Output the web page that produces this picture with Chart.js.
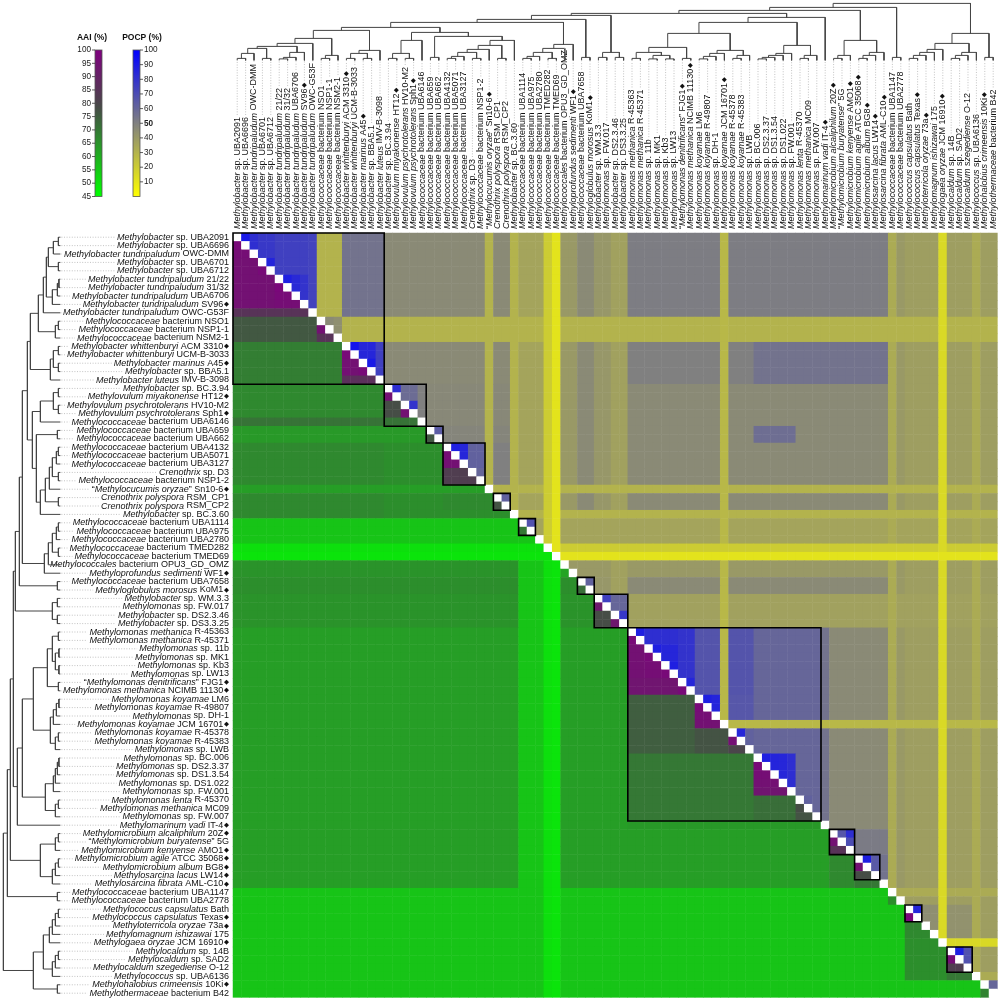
<!DOCTYPE html>
<html>
<head>
<meta charset="utf-8">
<title>AAI / POCP heatmap</title>
<script src="https://cdn.jsdelivr.net/npm/chart.js@4.4.1/dist/chart.umd.min.js"></script>
<style>
  html, body { margin: 0; padding: 0; background: #fff; }
  canvas { display: block; }
</style>
</head>
<body>
<canvas id="heatmap" width="1000" height="1000"></canvas>
<script>
// Taxa in dendrogram order (*...* = italic part, ◆ = type strain)
const taxa = [
  '*Methylobacter* sp. UBA2091',
  '*Methylobacter* sp. UBA6696',
  '*Methylobacter tundripaludum* OWC-DMM',
  '*Methylobacter* sp. UBA6701',
  '*Methylobacter* sp. UBA6712',
  '*Methylobacter tundripaludum* 21/22',
  '*Methylobacter tundripaludum* 31/32',
  '*Methylobacter tundripaludum* UBA6706',
  '*Methylobacter tundripaludum* SV96◆',
  '*Methylobacter tundripaludum* OWC-G53F',
  '*Methylococcaceae* bacterium NSO1',
  '*Methylococcaceae* bacterium NSP1-1',
  '*Methylococcaceae* bacterium NSM2-1',
  '*Methylobacter whittenburyi* ACM 3310◆',
  '*Methylobacter whittenburyi* UCM-B-3033',
  '*Methylobacter marinus* A45◆',
  '*Methylobacter* sp. BBA5.1',
  '*Methylobacter luteus* IMV-B-3098',
  '*Methylobacter* sp. BC.3.94',
  '*Methylovulum miyakonense* HT12◆',
  '*Methylovulum psychrotolerans* HV10-M2',
  '*Methylovulum psychrotolerans* Sph1◆',
  '*Methylococcaceae* bacterium UBA6146',
  '*Methylococcaceae* bacterium UBA659',
  '*Methylococcaceae* bacterium UBA662',
  '*Methylococcaceae* bacterium UBA4132',
  '*Methylococcaceae* bacterium UBA5071',
  '*Methylococcaceae* bacterium UBA3127',
  '*Crenothrix* sp. D3',
  '*Methylococcaceae* bacterium NSP1-2',
  '“*Methylocucumis oryzae*” Sn10-6◆',
  '*Crenothrix polyspora* RSM_CP1',
  '*Crenothrix polyspora* RSM_CP2',
  '*Methylobacter* sp. BC.3.60',
  '*Methylococcaceae* bacterium UBA1114',
  '*Methylococcaceae* bacterium UBA975',
  '*Methylococcaceae* bacterium UBA2780',
  '*Methylococcaceae* bacterium TMED282',
  '*Methylococcaceae* bacterium TMED69',
  '*Methylococcales* bacterium OPU3_GD_OMZ',
  '*Methyloprofundus sedimenti* WF1◆',
  '*Methylococcaceae* bacterium UBA7658',
  '*Methyloglobulus morosus* KoM1◆',
  '*Methylobacter* sp. WM.3.3',
  '*Methylomonas* sp. FW.017',
  '*Methylobacter* sp. DS2.3.46',
  '*Methylobacter* sp. DS3.3.25',
  '*Methylomonas methanica* R-45363',
  '*Methylomonas methanica* R-45371',
  '*Methylomonas* sp. 11b',
  '*Methylomonas* sp. MK1',
  '*Methylomonas* sp. Kb3',
  '*Methylomonas* sp. LW13',
  '“*Methylomonas denitrificans*” FJG1◆',
  '*Methylomonas methanica* NCIMB 11130◆',
  '*Methylomonas koyamae* LM6',
  '*Methylomonas koyamae* R-49807',
  '*Methylomonas* sp. DH-1',
  '*Methylomonas koyamae* JCM 16701◆',
  '*Methylomonas koyamae* R-45378',
  '*Methylomonas koyamae* R-45383',
  '*Methylomonas* sp. LWB',
  '*Methylomonas* sp. BC.006',
  '*Methylomonas* sp. DS2.3.37',
  '*Methylomonas* sp. DS1.3.54',
  '*Methylomonas* sp. DS1.022',
  '*Methylomonas* sp. FW.001',
  '*Methylomonas lenta* R-45370',
  '*Methylomonas methanica* MC09',
  '*Methylomonas* sp. FW.007',
  '*Methylomarinum vadi* IT-4◆',
  '*Methylomicrobium alcaliphilum* 20Z◆',
  '“*Methylomicrobium buryatense*” 5G',
  '*Methylomicrobium kenyense* AMO1◆',
  '*Methylomicrobium agile* ATCC 35068◆',
  '*Methylomicrobium album* BG8◆',
  '*Methylosarcina lacus* LW14◆',
  '*Methylosarcina fibrata* AML-C10◆',
  '*Methylococcaceae* bacterium UBA1147',
  '*Methylococcaceae* bacterium UBA2778',
  '*Methylococcus capsulatus* Bath',
  '*Methylococcus capsulatus* Texas◆',
  '*Methyloterricola oryzae* 73a◆',
  '*Methylomagnum ishizawai* 175',
  '*Methylogaea oryzae* JCM 16910◆',
  '*Methylocaldum* sp. 14B',
  '*Methylocaldum* sp. SAD2',
  '*Methylocaldum szegediense* O-12',
  '*Methylococcus* sp. UBA6136',
  '*Methylohalobius crimeensis* 10Ki◆',
  '*Methylothermaceae* bacterium B42'
];

// Tree nodes: [height, AAI %, POCP %, left, right]; the AAI/POCP of a node
// is the value read for pairs that first meet at that node.
const n01 = [2, 97, 90, 0, 1];
const n012 = [7, 96, 82, n01, 2];
const n34 = [2, 97, 86, 3, 4];
const a1 = [12, 95, 78, n012, n34];
const n56 = [1.5, 98, 88, 5, 6];
const n567 = [3, 97, 84, n56, 7];
const n5678 = [8, 96, 80, n567, 8];
const a2 = [14, 95, 75, a1, n5678];
const a3 = [17, 85, 74, a2, 9];
const n1011 = [2, 95, 48, 10, 11];
const n1012 = [5, 85, 46, n1011, 12];
const a4 = [22, 76, 60, a3, n1012];
const n1314 = [2, 97, 92, 13, 14];
const n1516 = [2, 97, 90, 15, 16];
const n1316 = [7, 95, 85, n1314, n1516];
const n1317 = [10, 86, 75, n1316, 17];
const cladeA = [30, 69, 55, a4, n1317];

const n1819 = [2, 95, 82, 18, 19];
const n2021 = [2, 95, 80, 20, 21];
const n1821 = [7, 78, 58, n1819, n2021];
const cladeB = [20, 71, 50, n1821, 22];

const n2324 = [3, 76, 64, 23, 24];
const n2526 = [2, 96, 88, 25, 26];
const n2527 = [4, 95, 85, n2526, 27];
const n2829 = [2, 82, 60, 28, 29];
const n2529 = [8, 82, 62, n2527, n2829];
const n2530 = [11, 67, 50, n2529, 30];
const n3132 = [2, 77, 62, 31, 32];
const n2532 = [15, 67, 50, n2530, n3132];
const n2533 = [20, 66, 48, n2532, 33];
const cladeC = [24, 66, 48, n2324, n2533];
const cladeBC = [28, 66, 47, cladeB, cladeC];
const cladeABC = [33, 67, 46, cladeA, cladeBC];

const n3435 = [2, 70, 68, 34, 35];
const n3436 = [4, 60, 50, n3435, 36];
const n3738 = [2, 55, 40, 37, 38];
const n3438 = [8, 58, 45, n3436, n3738];
const n3439 = [12, 62, 45, n3438, 39];
const cladeD = [16, 62, 45, n3439, 40];
const cladeE = [3, 72, 62, 41, 42];
const cladeABCD = [38, 65, 46, cladeABC, cladeD];
const cladeABCDE = [41, 66, 46, cladeABCD, cladeE];

const n4344 = [3, 93, 75, 43, 44];
const n4546 = [3, 93, 78, 45, 46];
const cladeF = [8, 78, 60, n4344, n4546];
const upper = [45, 65, 46, cladeABCDE, cladeF];

const n4748 = [2, 97, 88, 47, 48];
const n4950 = [1.5, 97, 88, 49, 50];
const n5152 = [1.5, 97, 88, 51, 52];
const n4952 = [5, 96, 85, n4950, n5152];
const n4752 = [8, 95, 82, n4748, n4952];
const n5354 = [2, 97, 85, 53, 54];
const g1a = [13, 94, 80, n4752, n5354];
const n5556 = [1.5, 97, 88, 55, 56];
const n5557 = [4, 96, 86, n5556, 57];
const n5558 = [7, 95, 84, n5557, 58];
const n5960 = [2, 96, 85, 59, 60];
const n5961 = [5, 80, 62, n5960, 61];
const g1b = [10, 77, 66, n5558, n5961];
const g1 = [27, 75, 67, g1a, g1b];
const n6263 = [1.5, 97, 88, 62, 63];
const n6264 = [3, 96, 86, n6263, 64];
const n6265 = [5, 95, 85, n6264, 65];
const n6266 = [7, 94, 82, n6265, 66];
const n6768 = [2, 78, 62, 67, 68];
const n6769 = [5, 77, 60, n6768, 69];
const g2 = [15, 72, 60, n6266, n6769];
const cladeG = [38, 70, 60, g1, g2];
const cladeGH = [43, 64, 55, cladeG, 70];
const rest3 = [47, 63, 46, upper, cladeGH];

const n7172 = [2, 95, 66, 71, 72];
const n7173 = [5, 85, 70, n7172, 73];
const n7475 = [2, 95, 88, 74, 75];
const n7476 = [5, 78, 65, n7475, 76];
const n7477 = [8, 70, 55, n7476, 77];
const cladeI = [20, 67, 52, n7173, n7477];
const rest2 = [50, 63, 46, rest3, cladeI];
const cladeJ = [3, 66, 55, 78, 79];
const rest = [53, 56, 40, rest2, cladeJ];

const n8081 = [2, 98, 85, 80, 81];
const n8082 = [5, 68, 45, n8081, 82];
const n8083 = [8, 67, 44, n8082, 83];
const n8084 = [11, 66, 42, n8083, 84];
const n8586 = [2, 96, 88, 85, 86];
const n8587 = [5, 82, 68, n8586, 87];
const n8588 = [8, 70, 55, n8587, 88];
const cladeK = [17, 66, 43, n8084, n8588];
const cladeL = [3, 68, 60, 89, 90];
const cladeKL = [27, 56, 38, cladeK, cladeL];
const treeRoot = [57, 56, 38, rest, cladeKL];

// Rectangular regions read separately: [row0, row1, col0, col1, AAI, POCP]
const blocks = [
  [0, 9, 47, 77, null, 51],
  [13, 17, 47, 61, null, 50],
  [13, 17, 62, 77, null, 55],
  [23, 24, 62, 66, null, 57],
  [0, 42, 43, 44, null, 41],
  [0, 42, 45, 46, null, 37],
  [43, 46, 47, 90, null, 37],
  [22, 22, 0, 17, 71, null],
  [23, 24, 0, 22, 64, null],
  [30, 30, 0, 29, 63, null]
];

// Taxa whose values stay low against everything (the light stripes)
const aaiCap = { 34: 56, 35: 56, 36: 56, 37: 51, 38: 50 };
const pocpCap = {
  10: 30, 11: 30, 12: 30, 30: 30, 33: 30, 34: 36, 35: 36, 36: 36,
  37: 20, 38: 11, 39: 40, 40: 40, 58: 28, 78: 33, 84: 15, 88: 33
};

// Single pairs that differ from the rules above: [i, j, AAI, POCP]
const pairOverrides = [
  [10, 11, null, 46],
  [10, 12, null, 44],
  [11, 12, null, 44],
  [34, 35, 70, 68],
  [71, 73, null, 82]
];

// Boxed clusters [first, last]
const boxes = [
  [0, 17], [18, 22], [23, 24], [25, 29], [31, 32], [34, 35], [41, 42],
  [43, 46], [47, 69], [71, 73], [74, 76], [80, 81], [85, 87]
];

const aaiTicks = [100, 95, 90, 85, 80, 75, 70, 65, 60, 55, 50, 45];
const pocpTicks = [100, 90, 80, 70, 60, 50, 40, 30, 20, 10];

// Colour ramps
const AAI_STOPS = [[45, [0, 255, 0]], [79, [72, 72, 72]], [100, [128, 0, 128]]];
const POCP_STOPS = [[0, [255, 255, 0]], [50, [128, 128, 128]], [100, [0, 0, 255]]];

function rampColor(stops, v) {
  if (v <= stops[0][0]) return stops[0][1];
  for (let k = 1; k < stops.length; k++) {
    if (v <= stops[k][0]) {
      const t = (v - stops[k - 1][0]) / (stops[k][0] - stops[k - 1][0]);
      return stops[k - 1][1].map((c, m) => Math.round(c + (stops[k][1][m] - c) * t));
    }
  }
  return stops[stops.length - 1][1];
}
const rgb = c => `rgb(${c[0]},${c[1]},${c[2]})`;

// Build the matrices
const N = taxa.length;
const aai = Array.from({ length: N }, () => new Array(N).fill(null));
const pocp = Array.from({ length: N }, () => new Array(N).fill(null));

function setPair(i, j, a, p) {
  const r = Math.max(i, j), c = Math.min(i, j);
  if (a != null) aai[r][c] = a;
  if (p != null) pocp[c][r] = p;
}

function fillPairs(node) {
  if (typeof node === 'number') return [node];
  const left = fillPairs(node[3]);
  const right = fillPairs(node[4]);
  left.forEach(i => right.forEach(j => setPair(i, j, node[1], node[2])));
  return left.concat(right);
}
fillPairs(treeRoot);

blocks.forEach(([r0, r1, c0, c1, a, p]) => {
  for (let r = r0; r <= r1; r++) {
    for (let c = c0; c <= c1; c++) {
      if (r > c && a != null) aai[r][c] = a;
      if (r < c && p != null) pocp[r][c] = p;
    }
  }
});

for (let r = 0; r < N; r++) {
  for (let c = 0; c < N; c++) {
    if (r > c) {
      [aaiCap[r], aaiCap[c]].forEach(cap => { if (cap != null) aai[r][c] = Math.min(aai[r][c], cap); });
    } else if (r < c) {
      [pocpCap[r], pocpCap[c]].forEach(cap => { if (cap != null) pocp[r][c] = Math.min(pocp[r][c], cap); });
    }
  }
}
pairOverrides.forEach(([i, j, a, p]) => setPair(i, j, a, p));

const cellPoints = [];
const cellColors = [];
for (let r = 0; r < N; r++) {
  for (let c = 0; c < N; c++) {
    cellPoints.push({ x: c + 0.5, y: r + 0.5 });
    if (r === c) cellColors.push('#ffffff');
    else if (r > c) cellColors.push(rgb(rampColor(AAI_STOPS, aai[r][c])));
    else cellColors.push(rgb(rampColor(POCP_STOPS, pocp[r][c])));
  }
}

// Layout in axis units (one unit = one heatmap cell)
const AXIS_MIN = -27.74;
const AXIS_MAX = 91.31;
const DENDRO_LEAF = -20.55;
const DENDRO_UNIT = 1 / 8.4;

function dendroPaths(node, toPoint, out) {
  if (typeof node === 'number') return { pos: node + 0.5, h: 0 };
  const a = dendroPaths(node[3], toPoint, out);
  const b = dendroPaths(node[4], toPoint, out);
  const h = node[0];
  out.push(toPoint(a.pos, a.h), toPoint(a.pos, h), toPoint(b.pos, h), toPoint(b.pos, b.h), { x: null, y: null });
  return { pos: (a.pos + b.pos) / 2, h };
}
const leftTree = [];
dendroPaths(treeRoot, (p, h) => ({ x: DENDRO_LEAF - h * DENDRO_UNIT, y: p }), leftTree);
const topTree = [];
dendroPaths(treeRoot, (p, h) => ({ x: p, y: DENDRO_LEAF - h * DENDRO_UNIT }), topTree);

const boxPoints = [];
boxes.forEach(([a, b]) => {
  boxPoints.push({ x: a, y: a }, { x: b + 1, y: a }, { x: b + 1, y: b + 1 }, { x: a, y: b + 1 }, { x: a, y: a }, { x: null, y: null });
});

// Text helpers
const FONT = '"Liberation Sans", Arial, sans-serif';
const LABEL_SIZE = 9.0;

function splitLabel(s) {
  const parts = [];
  s.split('*').forEach((t, k) => {
    t.split(/(◆)/).forEach(piece => {
      if (!piece.length) return;
      parts.push({ t: piece, it: k % 2 === 1, mark: piece === '◆' });
    });
  });
  return parts;
}
function partFont(p) {
  if (p.mark) return '6.5px "DejaVu Sans", sans-serif';
  return (p.it ? 'italic ' : '') + LABEL_SIZE + 'px ' + FONT;
}
function measureParts(ctx, parts) {
  let w = 0;
  parts.forEach(p => { ctx.font = partFont(p); w += ctx.measureText(p.t).width + (p.mark ? 0.8 : 0); });
  return w;
}
function drawParts(ctx, parts, x, y) {
  parts.forEach(p => {
    ctx.font = partFont(p);
    if (p.mark) x += 0.8;
    ctx.fillText(p.t, x, y);
    x += ctx.measureText(p.t).width;
  });
}

function drawColorBar(ctx, x, w, yTop, yBot, lo, hi, stops) {
  const g = ctx.createLinearGradient(0, yBot, 0, yTop);
  for (let k = 0; k <= 40; k++) {
    g.addColorStop(k / 40, rgb(rampColor(stops, lo + (hi - lo) * k / 40)));
  }
  ctx.fillStyle = g;
  ctx.fillRect(x, yTop, w, yBot - yTop);
  ctx.strokeStyle = '#555';
  ctx.lineWidth = 0.8;
  ctx.strokeRect(x, yTop, w, yBot - yTop);
}

function drawLegend(ctx) {
  const yTop = 50, yBot = 196.5;
  ctx.save();
  ctx.fillStyle = '#111';
  ctx.textBaseline = 'middle';
  ctx.textAlign = 'center';
  ctx.font = 'bold 8.5px ' + FONT;
  ctx.fillText('AAI (%)', 92, 38);
  ctx.fillText('POCP (%)', 142, 38);

  drawColorBar(ctx, 95, 7, yTop, yBot, 45, 100, AAI_STOPS);
  drawColorBar(ctx, 133, 7, yTop, yBot, 0, 100, POCP_STOPS);

  ctx.strokeStyle = '#333';
  ctx.lineWidth = 0.8;
  ctx.fillStyle = '#222';
  ctx.font = '8.2px ' + FONT;
  ctx.textAlign = 'right';
  aaiTicks.forEach(v => {
    const y = yBot - (v - 45) / 55 * (yBot - yTop);
    ctx.beginPath(); ctx.moveTo(92, y); ctx.lineTo(95, y); ctx.stroke();
    ctx.fillText(String(v), 91, y);
  });
  ctx.textAlign = 'left';
  pocpTicks.forEach(v => {
    const y = yBot - v / 100 * (yBot - yTop);
    ctx.beginPath(); ctx.moveTo(140, y); ctx.lineTo(143, y); ctx.stroke();
    ctx.font = (v === 50 ? 'bold ' : '') + '8.2px ' + FONT;
    ctx.fillText(String(v), 144, y);
  });
  ctx.restore();
}

const labelPlugin = {
  id: 'taxonLabels',
  afterDraw(chart) {
    const ctx = chart.ctx;
    const xs = chart.scales.x, ys = chart.scales.y;
    const heatLeft = xs.getPixelForValue(0);
    const heatTop = ys.getPixelForValue(0);
    const leafLeft = xs.getPixelForValue(DENDRO_LEAF);
    const leafTop = ys.getPixelForValue(DENDRO_LEAF);
    const gap = 4;

    ctx.save();
    ctx.textBaseline = 'middle';
    ctx.textAlign = 'left';
    taxa.forEach((name, i) => {
      const parts = splitLabel(name);
      const w = measureParts(ctx, parts);

      // row label + leader
      const yc = ys.getPixelForValue(i + 0.5);
      const xStart = heatLeft - gap - w;
      ctx.fillStyle = '#111';
      drawParts(ctx, parts, xStart, yc);
      ctx.save();
      ctx.strokeStyle = '#b4b4b4';
      ctx.lineWidth = 0.8;
      ctx.setLineDash([1, 1.6]);
      ctx.beginPath();
      ctx.moveTo(leafLeft + 1, yc);
      ctx.lineTo(xStart - 2, yc);
      ctx.stroke();
      ctx.restore();

      // column label + leader
      const xc = xs.getPixelForValue(i + 0.5);
      ctx.save();
      ctx.translate(xc, heatTop - gap);
      ctx.rotate(-Math.PI / 2);
      ctx.fillStyle = '#111';
      drawParts(ctx, parts, 0, 0);
      ctx.strokeStyle = '#b4b4b4';
      ctx.lineWidth = 0.8;
      ctx.setLineDash([1, 1.6]);
      ctx.beginPath();
      ctx.moveTo(w + 2, 0);
      ctx.lineTo(heatTop - gap - leafTop - 1, 0);
      ctx.stroke();
      ctx.restore();
    });
    ctx.restore();

    drawLegend(ctx);
  }
};

function cellRadius(context) {
  const xs = context.chart.scales.x;
  const side = Math.abs(xs.getPixelForValue(1) - xs.getPixelForValue(0)) + 0.5;
  return side / 2 / Math.SQRT1_2;
}

new Chart(document.getElementById('heatmap'), {
  type: 'scatter',
  data: {
    datasets: [
      {
        label: 'clusters',
        data: boxPoints,
        showLine: true,
        borderColor: '#000',
        borderWidth: 1.6,
        borderCapStyle: 'square',
        pointRadius: 0,
        order: 0
      },
      {
        label: 'row tree',
        data: leftTree,
        showLine: true,
        borderColor: '#444',
        borderWidth: 1,
        pointRadius: 0,
        order: 1
      },
      {
        label: 'column tree',
        data: topTree,
        showLine: true,
        borderColor: '#444',
        borderWidth: 1,
        pointRadius: 0,
        order: 1
      },
      {
        label: 'AAI / POCP',
        data: cellPoints,
        backgroundColor: cellColors,
        pointStyle: 'rect',
        pointRadius: cellRadius,
        borderWidth: 0,
        order: 3
      }
    ]
  },
  options: {
    responsive: false,
    animation: false,
    events: [],
    layout: { padding: 0 },
    plugins: {
      legend: { display: false },
      tooltip: { enabled: false }
    },
    scales: {
      x: { type: 'linear', min: AXIS_MIN, max: AXIS_MAX, display: false },
      y: { type: 'linear', min: AXIS_MIN, max: AXIS_MAX, reverse: true, display: false }
    }
  },
  plugins: [labelPlugin]
});
</script>
</body>
</html>
